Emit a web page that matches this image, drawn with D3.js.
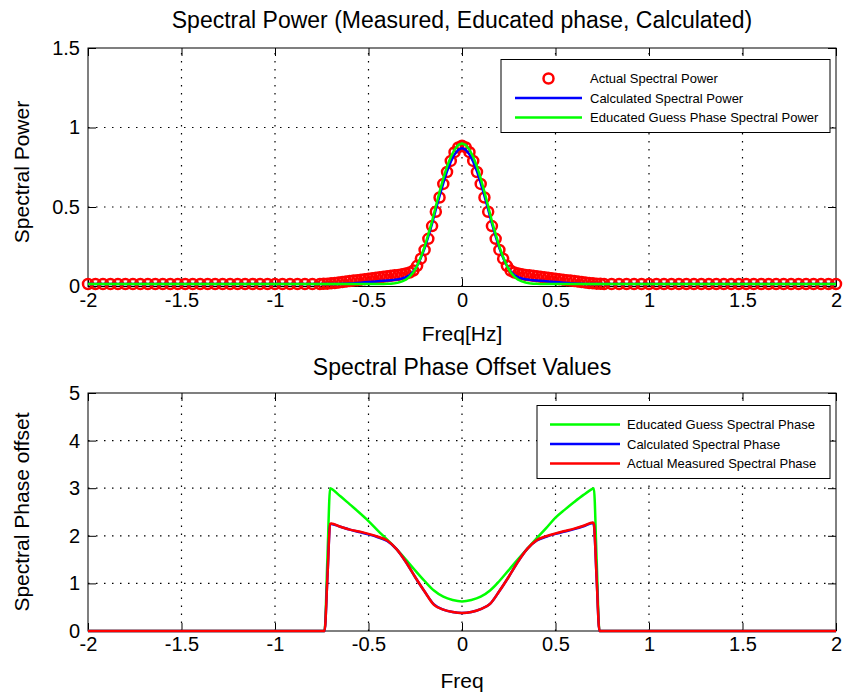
<!DOCTYPE html>
<html>
<head>
<meta charset="utf-8">
<title>Spectral Power and Phase</title>
<style>
  body { margin: 0; background: #fff; }
  svg { display: block; background: #fff; }
  text { font-family: "Liberation Sans", Arial, sans-serif; fill: #000; }
  .grid line { stroke: #000; stroke-width: 1.2; stroke-dasharray: 1.5,6.5; }
  .frame { fill: none; stroke: #000; stroke-width: 1; }
  .axis path { display: none; }
  .axis line { stroke: #000; }
  .axis text { font-size: 20px; }
  .label { font-size: 21px; }
  .title { font-size: 23px; }
  .legend rect { fill: #fff; stroke: #000; }
  .legend text { font-size: 13px; }
</style>
</head>
<body>
<svg id="chart" width="848" height="696"></svg>
<script src="https://d3js.org/d3.v7.min.js"></script>
<script>
// ---- top panel: spectral power, sampled on one freq grid ----
var powerFreq = [
  -2, -1.96, -1.92, -1.88, -1.84, -1.8, -1.76, -1.72, -1.68, -1.64, -1.6, -1.56, -1.52, -1.48, -1.44, -1.4,
  -1.36, -1.32, -1.28, -1.24, -1.2, -1.16, -1.12, -1.08, -1.04, -1, -0.96, -0.92, -0.88, -0.84, -0.8, -0.76,
  -0.74, -0.72, -0.7, -0.68, -0.66, -0.64, -0.62, -0.6, -0.58, -0.56, -0.54, -0.52, -0.5, -0.48, -0.46, -0.44,
  -0.42, -0.4, -0.38, -0.36, -0.34, -0.32, -0.3, -0.28, -0.26, -0.24, -0.22, -0.2, -0.18, -0.16, -0.14, -0.12,
  -0.1, -0.08, -0.06, -0.04, -0.02, 0,
  0.02, 0.04, 0.06, 0.08, 0.1, 0.12, 0.14, 0.16, 0.18, 0.2, 0.22, 0.24, 0.26, 0.28, 0.3, 0.32,
  0.34, 0.36, 0.38, 0.4, 0.42, 0.44, 0.46, 0.48, 0.5, 0.52, 0.54, 0.56, 0.58, 0.6, 0.62, 0.64,
  0.66, 0.68, 0.7, 0.72, 0.74,
  0.76, 0.8, 0.84, 0.88, 0.92, 0.96, 1, 1.04, 1.08, 1.12, 1.16, 1.2, 1.24, 1.28, 1.32, 1.36,
  1.4, 1.44, 1.48, 1.52, 1.56, 1.6, 1.64, 1.68, 1.72, 1.76, 1.8, 1.84, 1.88, 1.92, 1.96, 2
];

var actualPower = [
  0.016, 0.016, 0.016, 0.016, 0.016, 0.016, 0.016, 0.016, 0.016, 0.016, 0.016, 0.016, 0.016, 0.016, 0.016, 0.016,
  0.016, 0.016, 0.016, 0.016, 0.016, 0.016, 0.016, 0.016, 0.016, 0.016, 0.016, 0.016, 0.016, 0.016, 0.016, 0.016,
  0.017, 0.018, 0.020, 0.022, 0.025, 0.028, 0.031, 0.034, 0.037, 0.040, 0.043, 0.046, 0.049, 0.052, 0.055, 0.058,
  0.061, 0.064, 0.067, 0.070, 0.073, 0.077, 0.082, 0.088, 0.10, 0.13, 0.175, 0.23, 0.30, 0.38, 0.47, 0.56,
  0.645, 0.72, 0.79, 0.845, 0.875, 0.885,
  0.875, 0.845, 0.79, 0.72, 0.645, 0.56, 0.47, 0.38, 0.30, 0.23, 0.175, 0.13, 0.10, 0.088, 0.082, 0.077,
  0.073, 0.070, 0.067, 0.064, 0.061, 0.058, 0.055, 0.052, 0.049, 0.046, 0.043, 0.040, 0.037, 0.034, 0.031, 0.028,
  0.025, 0.022, 0.020, 0.018, 0.017,
  0.016, 0.016, 0.016, 0.016, 0.016, 0.016, 0.016, 0.016, 0.016, 0.016, 0.016, 0.016, 0.016, 0.016, 0.016, 0.016,
  0.016, 0.016, 0.016, 0.016, 0.016, 0.016, 0.016, 0.016, 0.016, 0.016, 0.016, 0.016, 0.016, 0.016, 0.016, 0.016
];

var calcPower = [
  0.015, 0.015, 0.015, 0.015, 0.015, 0.015, 0.015, 0.015, 0.015, 0.015, 0.015, 0.015, 0.015, 0.015, 0.015, 0.015,
  0.015, 0.015, 0.015, 0.015, 0.015, 0.015, 0.015, 0.015, 0.015, 0.015, 0.015, 0.015, 0.015, 0.015, 0.015, 0.015,
  0.015, 0.015, 0.015, 0.015, 0.016, 0.017, 0.018, 0.019, 0.020, 0.022, 0.024, 0.026, 0.028, 0.030, 0.032, 0.034,
  0.036, 0.038, 0.040, 0.042, 0.045, 0.050, 0.058, 0.072, 0.095, 0.13, 0.18, 0.24, 0.315, 0.395, 0.485, 0.57,
  0.65, 0.725, 0.785, 0.83, 0.86, 0.87,
  0.86, 0.83, 0.785, 0.725, 0.65, 0.57, 0.485, 0.395, 0.315, 0.24, 0.18, 0.13, 0.095, 0.072, 0.058, 0.050,
  0.045, 0.042, 0.040, 0.038, 0.036, 0.034, 0.032, 0.030, 0.028, 0.026, 0.024, 0.022, 0.020, 0.019, 0.018, 0.017,
  0.016, 0.015, 0.015, 0.015, 0.015,
  0.015, 0.015, 0.015, 0.015, 0.015, 0.015, 0.015, 0.015, 0.015, 0.015, 0.015, 0.015, 0.015, 0.015, 0.015, 0.015,
  0.015, 0.015, 0.015, 0.015, 0.015, 0.015, 0.015, 0.015, 0.015, 0.015, 0.015, 0.015, 0.015, 0.015, 0.015, 0.015
];

var guessPower = [
  0.015, 0.015, 0.015, 0.015, 0.015, 0.015, 0.015, 0.015, 0.015, 0.015, 0.015, 0.015, 0.015, 0.015, 0.015, 0.015,
  0.015, 0.015, 0.015, 0.015, 0.015, 0.015, 0.015, 0.015, 0.015, 0.015, 0.015, 0.015, 0.015, 0.015, 0.015, 0.015,
  0.015, 0.015, 0.015, 0.015, 0.015, 0.015, 0.015, 0.015, 0.015, 0.015, 0.015, 0.015, 0.015, 0.015, 0.015, 0.016,
  0.016, 0.017, 0.018, 0.021, 0.025, 0.032, 0.043, 0.062, 0.09, 0.13, 0.185, 0.25, 0.33, 0.41, 0.505, 0.595,
  0.68, 0.755, 0.815, 0.86, 0.89, 0.90,
  0.89, 0.86, 0.815, 0.755, 0.68, 0.595, 0.505, 0.41, 0.33, 0.25, 0.185, 0.13, 0.09, 0.062, 0.043, 0.032,
  0.025, 0.021, 0.018, 0.017, 0.016, 0.016, 0.015, 0.015, 0.015, 0.015, 0.015, 0.015, 0.015, 0.015, 0.015, 0.015,
  0.015, 0.015, 0.015, 0.015, 0.015,
  0.015, 0.015, 0.015, 0.015, 0.015, 0.015, 0.015, 0.015, 0.015, 0.015, 0.015, 0.015, 0.015, 0.015, 0.015, 0.015,
  0.015, 0.015, 0.015, 0.015, 0.015, 0.015, 0.015, 0.015, 0.015, 0.015, 0.015, 0.015, 0.015, 0.015, 0.015, 0.015
];

// ---- bottom panel: spectral phase offset ----
var phaseFreq = [-2, -0.74, -0.735, -0.72, -0.705, -0.7, -0.65, -0.6, -0.55, -0.5, -0.45, -0.4, -0.35, -0.3,
  -0.25, -0.2, -0.15, -0.1, -0.05, 0, 0.05, 0.1, 0.15, 0.2, 0.25, 0.3, 0.35, 0.4, 0.45, 0.5, 0.55, 0.6, 0.65,
  0.7, 0.705, 0.72, 0.735, 0.74, 2];
var guessPhase = [0, 0, 0, 1.5, 3.0, 2.99, 2.83, 2.66, 2.49, 2.31, 2.11, 1.92, 1.72, 1.50,
  1.27, 1.05, 0.85, 0.72, 0.65, 0.62, 0.65, 0.72, 0.85, 1.05, 1.28, 1.51, 1.73, 1.95, 2.16, 2.38, 2.55, 2.71, 2.86,
  2.99, 3.0, 1.5, 0, 0, 0];
var calcPhase = [0, 0, 0, 1.1, 2.24, 2.25, 2.19, 2.13, 2.08, 2.03, 1.97, 1.89, 1.72, 1.45,
  1.13, 0.83, 0.56, 0.45, 0.40, 0.38, 0.40, 0.46, 0.57, 0.84, 1.14, 1.46, 1.73, 1.90, 1.98, 2.04, 2.09, 2.14, 2.20,
  2.27, 2.24, 1.1, 0, 0, 0];
var actualPhase = [0, 0, 0, 1.1, 2.25, 2.26, 2.19, 2.13, 2.09, 2.04, 1.98, 1.90, 1.72, 1.45,
  1.13, 0.83, 0.55, 0.45, 0.40, 0.38, 0.40, 0.46, 0.57, 0.84, 1.14, 1.46, 1.73, 1.91, 1.99, 2.05, 2.10, 2.15, 2.21,
  2.28, 2.25, 1.1, 0, 0, 0];

var xTicks = [-2, -1.5, -1, -0.5, 0, 0.5, 1, 1.5, 2];
var powerTicks = [0, 0.5, 1, 1.5];
var phaseTicks = [0, 1, 2, 3, 4, 5];

var powerLegend = ["Actual Spectral Power", "Calculated Spectral Power", "Educated Guess  Phase Spectral Power"];
var phaseLegend = ["Educated Guess Spectral Phase", "Calculated Spectral Phase", "Actual Measured Spectral Phase"];

var RED = "#ff0000", BLUE = "#0000ff", GREEN = "#00ff00";

var svg = d3.select("#chart");

var x = d3.scaleLinear().domain([-2, 2]).range([88, 836]);
var yPower = d3.scaleLinear().domain([0, 1.5]).range([286.5, 48]);
var yPhase = d3.scaleLinear().domain([0, 5]).range([631, 393]);

var fmt = function(d) { return String(d); };

function drawPanel(y, yTicks) {
  var y0 = y.range()[0], y1 = y.range()[1];

  var grid = svg.append("g").attr("class", "grid");
  grid.selectAll(".gx").data(xTicks.slice(1, -1)).enter().append("line")
    .attr("x1", function(d) { return x(d); })
    .attr("x2", function(d) { return x(d); })
    .attr("y1", y0).attr("y2", y1);
  grid.selectAll(".gy").data(yTicks.slice(1, -1)).enter().append("line")
    .attr("x1", x.range()[0]).attr("x2", x.range()[1])
    .attr("y1", function(d) { return y(d); })
    .attr("y2", function(d) { return y(d); });

  svg.append("rect").attr("class", "frame")
    .attr("x", x.range()[0]).attr("y", y1)
    .attr("width", x.range()[1] - x.range()[0]).attr("height", y0 - y1);

  svg.append("g").attr("class", "axis").attr("transform", "translate(0," + y0 + ")")
    .call(d3.axisBottom(x).tickValues(xTicks).tickFormat(fmt).tickSize(-8).tickPadding(6));
  svg.append("g").attr("class", "axis").attr("transform", "translate(0," + y1 + ")")
    .call(d3.axisTop(x).tickValues(xTicks).tickFormat("").tickSize(-8));
  svg.append("g").attr("class", "axis").attr("transform", "translate(" + x.range()[0] + ",0)")
    .call(d3.axisLeft(y).tickValues(yTicks).tickFormat(fmt).tickSize(-8).tickPadding(8));
  svg.append("g").attr("class", "axis").attr("transform", "translate(" + x.range()[1] + ",0)")
    .call(d3.axisRight(y).tickValues(yTicks).tickFormat("").tickSize(-8));
}

function drawLine(freqs, values, y, color, curve) {
  var line = d3.line()
    .curve(curve || d3.curveLinear)
    .x(function(d) { return x(d[0]); })
    .y(function(d) { return y(d[1]); });
  svg.append("path")
    .datum(freqs.map(function(f, i) { return [f, values[i]]; }))
    .attr("d", line)
    .attr("fill", "none")
    .attr("stroke", color)
    .attr("stroke-width", 2.5)
    .attr("stroke-linejoin", "round");
}

function drawLegend(lx, ly, w, h, names, kinds, colors, sampleX0, sampleX1, textX) {
  var g = svg.append("g").attr("class", "legend");
  g.append("rect").attr("x", lx).attr("y", ly).attr("width", w).attr("height", h);
  var rows = g.selectAll(".row").data(names).enter().append("g")
    .attr("transform", function(d, i) { return "translate(0," + (ly + 19 + i * 19.5) + ")"; });
  rows.each(function(d, i) {
    var r = d3.select(this);
    if (kinds[i] === "o") {
      r.append("circle").attr("cx", (sampleX0 + sampleX1) / 2).attr("cy", 0).attr("r", 5)
        .attr("fill", "none").attr("stroke", colors[i]).attr("stroke-width", 2.5);
    } else {
      r.append("line").attr("x1", sampleX0).attr("x2", sampleX1)
        .attr("stroke", colors[i]).attr("stroke-width", 2.5);
    }
    r.append("text").attr("x", textX).attr("dy", "0.35em").text(d);
  });
}

// ---- top panel ----
drawPanel(yPower, powerTicks);

svg.append("g").selectAll("circle").data(powerFreq).enter().append("circle")
  .attr("cx", function(d) { return x(d); })
  .attr("cy", function(d, i) { return yPower(actualPower[i]); })
  .attr("r", 5)
  .attr("fill", "none")
  .attr("stroke", RED)
  .attr("stroke-width", 2.5);
drawLine(powerFreq, calcPower, yPower, BLUE);
drawLine(powerFreq, guessPower, yPower, GREEN);

drawLegend(501, 59.5, 329, 73, powerLegend, ["o", "-", "-"], [RED, BLUE, GREEN], 515, 582, 590);

svg.append("text").attr("class", "title").attr("x", 462).attr("y", 28)
  .attr("text-anchor", "middle").text("Spectral Power (Measured, Educated phase, Calculated)");
svg.append("text").attr("class", "label").attr("x", 462).attr("y", 341)
  .attr("text-anchor", "middle").text("Freq[Hz]");
svg.append("text").attr("class", "label").attr("text-anchor", "middle")
  .attr("transform", "translate(29,172) rotate(-90)").text("Spectral Power");

// ---- bottom panel ----
drawPanel(yPhase, phaseTicks);

drawLine(phaseFreq, guessPhase, yPhase, GREEN, d3.curveMonotoneX);
drawLine(phaseFreq, calcPhase, yPhase, BLUE, d3.curveMonotoneX);
drawLine(phaseFreq, actualPhase, yPhase, RED, d3.curveMonotoneX);

drawLegend(537, 405.5, 293, 73, phaseLegend, ["-", "-", "-"], [GREEN, BLUE, RED], 550, 620, 627);

svg.append("text").attr("class", "title").attr("x", 462).attr("y", 375)
  .attr("text-anchor", "middle").text("Spectral Phase Offset Values");
svg.append("text").attr("class", "label").attr("x", 462).attr("y", 688)
  .attr("text-anchor", "middle").text("Freq");
svg.append("text").attr("class", "label").attr("text-anchor", "middle")
  .attr("transform", "translate(29,512) rotate(-90)").text("Spectral Phase offset");
</script>
</body>
</html>
